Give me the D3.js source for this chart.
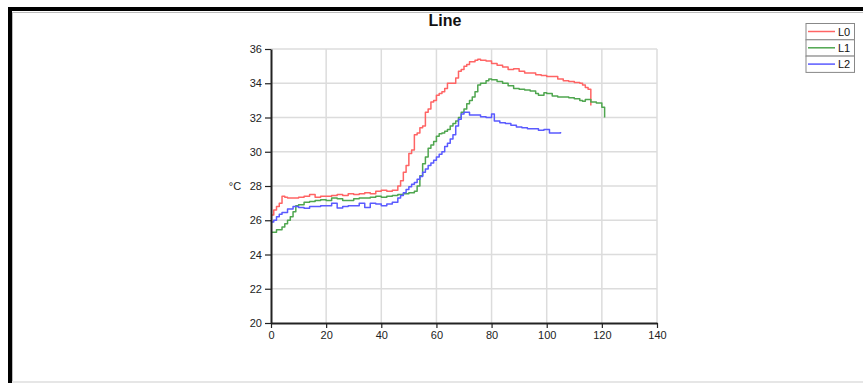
<!DOCTYPE html>
<html><head><meta charset="utf-8">
<script src="https://cdn.jsdelivr.net/npm/d3@7"></script>
<style>
html,body{margin:0;padding:0;background:#fff;}
svg{display:block;}
.tick text{font-family:"Liberation Sans Narrow","Arial Narrow","Liberation Sans",sans-serif;font-size:11px;fill:#222;}
</style></head>
<body>
<script>
const title = "Line";
const yLabel = "°C";
const seriesNames = ["L0", "L1", "L2"];
const seriesColors = ["#ff6464", "#4fa64f", "#5a5aff"];
const xTicks = [0, 20, 40, 60, 80, 100, 120, 140];
const yTicks = [20, 22, 24, 26, 28, 30, 32, 34, 36];

const l0X = [0,1,2,3,4,5,6,8,10,12,14,16,18,20,22,24,26,28,30,32,34,36,38,40,42,44,46,47,48,49,50,51,52,53,54,55,56,57,58,59,60,61,62,63,64,66,67,68,69,70,71,72,74,75,76,78,80,82,84,86,88,90,92,94,96,98,100,102,104,106,108,110,112,113,114,115,116];
const l0Y = [26.3,26.6,26.8,27.0,27.4,27.35,27.3,27.3,27.35,27.4,27.5,27.35,27.4,27.4,27.45,27.5,27.45,27.55,27.5,27.55,27.6,27.55,27.7,27.75,27.7,27.75,28.0,28.3,28.8,29.2,29.9,30.1,31.0,31.1,31.4,31.5,32.3,32.5,32.9,33.0,33.3,33.4,33.5,33.7,34.0,34.0,34.3,34.7,34.8,35.0,35.1,35.25,35.35,35.4,35.35,35.3,35.15,35.05,34.95,34.8,34.85,34.7,34.6,34.6,34.5,34.45,34.4,34.4,34.25,34.15,34.1,34.05,34.0,33.9,33.75,33.65,32.7];

const l1X = [0,2,4,5,6,7,8,9,10,12,14,16,18,20,22,24,26,28,30,32,34,36,38,40,42,44,46,48,50,52,53,54,55,56,57,58,59,60,61,62,63,64,65,66,67,68,69,70,71,72,73,74,75,76,78,79,80,82,84,86,88,90,92,94,96,97,99,100,102,104,106,108,110,112,113,114,116,118,120,121];
const l1Y = [25.3,25.45,25.6,25.8,26.0,26.2,26.5,26.85,26.9,27.05,27.1,27.15,27.2,27.15,27.3,27.25,27.15,27.15,27.25,27.3,27.3,27.35,27.4,27.35,27.4,27.45,27.5,27.55,27.6,27.7,28.0,28.6,29.3,29.7,30.2,30.4,30.6,30.9,31.05,31.1,31.2,31.3,31.5,31.65,31.8,32.0,32.3,32.5,32.8,33.0,33.2,33.5,33.9,34.0,34.15,34.25,34.2,34.1,34.0,33.85,33.7,33.65,33.6,33.55,33.4,33.3,33.45,33.4,33.25,33.2,33.2,33.15,33.1,33.0,32.95,33.05,32.9,32.85,32.6,32.0];

const l2X = [0,1,2,3,4,6,8,10,12,14,16,18,20,22,24,26,28,30,32,34,36,38,40,42,44,46,47,48,49,50,51,52,53,54,55,56,57,58,59,60,61,62,63,64,65,66,67,68,69,70,72,74,76,78,80,81,83,85,87,89,91,93,95,97,99,100,101,103,105];
const l2Y = [25.9,26.0,26.2,26.35,26.45,26.65,26.8,26.75,26.7,26.8,26.8,26.85,26.85,27.0,26.72,26.8,26.85,26.85,27.0,26.75,27.0,26.95,26.85,26.95,27.05,27.3,27.45,27.6,27.8,27.95,28.1,28.2,28.4,28.55,28.8,29.0,29.2,29.35,29.5,29.7,29.85,30.0,30.3,30.5,30.75,31.0,31.5,31.9,32.2,32.3,32.15,32.15,32.05,32.0,32.2,31.8,31.7,31.65,31.55,31.45,31.4,31.35,31.35,31.25,31.3,31.3,31.1,31.1,31.15];

const seriesX = [l0X, l1X, l2X];
const seriesY = [l0Y, l1Y, l2Y];

const W = 863, H = 383;
const svg = d3.select("body").append("svg").attr("width", W).attr("height", H);

// frame
svg.append("rect").attr("x", 10).attr("y", 9).attr("width", W + 20).attr("height", H + 20)
  .attr("fill", "#fff").attr("stroke", "#000").attr("stroke-width", 4);
svg.append("line").attr("x1", 12).attr("x2", W).attr("y1", 12.5).attr("y2", 12.5).attr("stroke", "#bbb").attr("stroke-width", 1);
svg.append("line").attr("x1", 12.5).attr("x2", 12.5).attr("y1", 12).attr("y2", H).attr("stroke", "#bbb").attr("stroke-width", 1);
svg.append("line").attr("x1", 12).attr("x2", W).attr("y1", 382).attr("y2", 382).attr("stroke", "#e6e6e6").attr("stroke-width", 2);

const x = d3.scaleLinear().domain([0, 140]).range([271, 657]);
const y = d3.scaleLinear().domain([20, 36]).range([323, 49]);

// grid
const g = svg.append("g");
g.selectAll("line.gx").data(xTicks.slice(1)).join("line")
  .attr("x1", d => x(d)).attr("x2", d => x(d)).attr("y1", y(36)).attr("y2", y(20))
  .attr("stroke", "#dcdcdc").attr("stroke-width", 1.5);
g.selectAll("line.gy").data(yTicks.slice(1)).join("line")
  .attr("x1", x(0)).attr("x2", x(140)).attr("y1", d => y(d)).attr("y2", d => y(d))
  .attr("stroke", "#dcdcdc").attr("stroke-width", 1.5);

// lines
const line = d3.line().x(d => x(d[0])).y(d => y(d[1])).curve(d3.curveStepAfter);
seriesNames.forEach((n, i) => {
  const pts = seriesX[i].map((xv, j) => [xv, seriesY[i][j]]);
  svg.append("path").datum(pts).attr("d", line).attr("fill", "none")
    .attr("stroke", seriesColors[i]).attr("stroke-width", 1.5).attr("stroke-linejoin", "round");
});

// axes
const xa = svg.append("g").attr("transform", `translate(0,${y(20)})`)
  .call(d3.axisBottom(x).tickValues(xTicks).tickSize(5).tickSizeOuter(0).tickPadding(3));
const ya = svg.append("g").attr("transform", `translate(${x(0)},0)`)
  .call(d3.axisLeft(y).tickValues(yTicks).tickSize(6).tickSizeOuter(0).tickPadding(3));
[xa, ya].forEach(a => {
  a.select(".domain").attr("stroke", "#222").attr("stroke-width", 2);
  a.selectAll(".tick line").attr("stroke", "#222").attr("stroke-width", 1.2);
});

// title & label
svg.append("text").attr("x", 445).attr("y", 26).attr("text-anchor", "middle")
  .attr("font-family", "Liberation Sans, Arial, sans-serif").attr("font-weight", "bold")
  .attr("font-size", 16).attr("fill", "#111").text(title);
svg.append("text").attr("x", 235).attr("y", y(28) + 4).attr("text-anchor", "middle")
  .attr("font-family", "Liberation Sans, Arial, sans-serif").attr("font-size", 11)
  .attr("fill", "#222").text(yLabel);

// legend
const lg = svg.append("g");
seriesNames.forEach((n, i) => {
  const ty = 23.5 + i * 16.3;
  lg.append("rect").attr("x", 806).attr("y", ty).attr("width", 48.5).attr("height", 16.3)
    .attr("fill", "#fff").attr("stroke", "#888").attr("stroke-width", 1);
  lg.append("line").attr("x1", 808).attr("x2", 835).attr("y1", ty + 8).attr("y2", ty + 8)
    .attr("stroke", seriesColors[i]).attr("stroke-width", 1.5);
  lg.append("text").attr("x", 838).attr("y", ty + 12)
    .attr("font-family", "Liberation Sans Narrow, Arial Narrow, sans-serif").attr("font-size", 11)
    .attr("fill", "#111").text(n);
});
</script>
</body></html>
